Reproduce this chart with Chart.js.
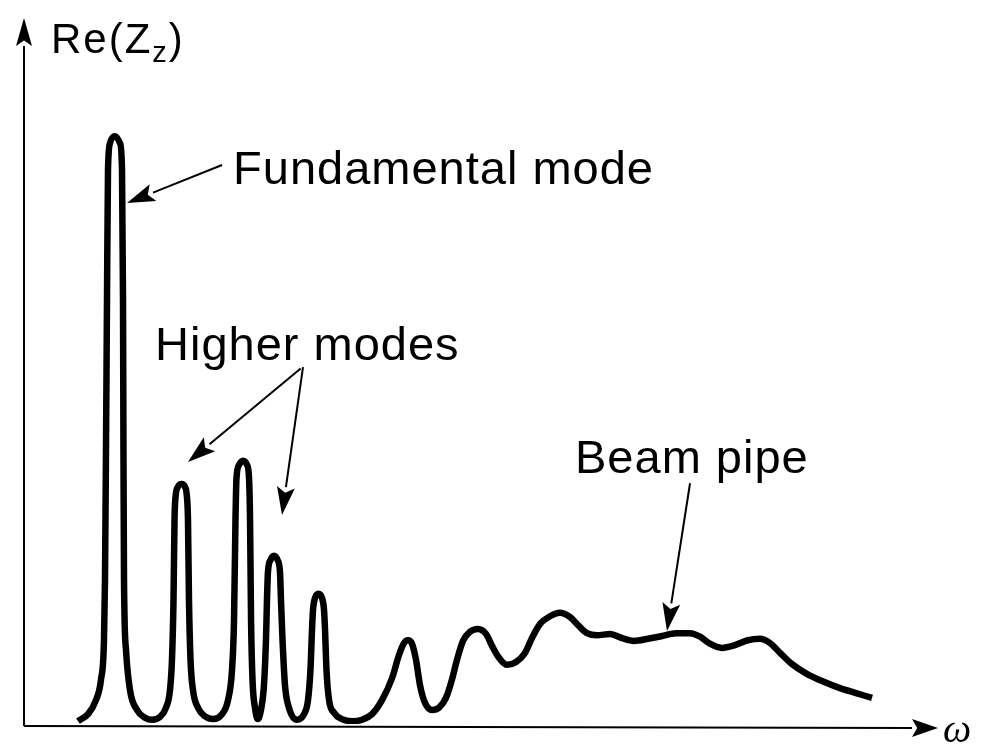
<!DOCTYPE html>
<html>
<head>
<meta charset="utf-8">
<script src="https://cdn.jsdelivr.net/npm/chart.js@4.4.1/dist/chart.umd.min.js"></script>
<style>
  html, body { margin: 0; padding: 0; background: #fff; }
  canvas { display: block; }
</style>
</head>
<body>
<canvas id="impedance-chart" width="983" height="745"></canvas>
<script>
// frequency (arbitrary units) and real part of the longitudinal impedance
const omega = [
  0.593, 0.703, 0.791, 0.846, 0.879, 0.890, 0.901, 0.912, 0.923, 0.945, 1.000, 1.055, 1.077, 1.088, 1.093, 1.099, 1.121, 1.165, 1.242, 1.330, 1.407,
  1.495, 1.560, 1.604, 1.626, 1.643, 1.654, 1.665, 1.692, 1.731, 1.769, 1.791, 1.802, 1.813, 1.830, 1.857, 1.912, 1.989, 2.077,
  2.176, 2.242, 2.286, 2.308, 2.324, 2.335, 2.363, 2.407, 2.451, 2.473, 2.484, 2.495, 2.511, 2.538, 2.571,
  2.604, 2.637, 2.659, 2.670, 2.681, 2.709, 2.747, 2.786, 2.813, 2.824, 2.841, 2.868, 2.912, 3.000,
  3.077, 3.121, 3.148, 3.165, 3.176, 3.198, 3.236, 3.275, 3.297, 3.308, 3.324, 3.352, 3.407, 3.495, 3.604,
  3.714, 3.824, 3.934, 4.044, 4.121, 4.176, 4.220, 4.264, 4.308, 4.352, 4.407, 4.484, 4.560, 4.637, 4.703, 4.758,
  4.824, 4.901, 4.989, 5.077, 5.143, 5.220, 5.308, 5.407, 5.505, 5.582, 5.670, 5.780, 5.890, 6.000, 6.099, 6.187,
  6.297, 6.440, 6.571, 6.703, 6.857, 7.011, 7.165, 7.319, 7.429, 7.538, 7.670, 7.813, 7.956, 8.088, 8.198, 8.308,
  8.440, 8.593, 8.769, 8.967, 9.143, 9.319
];
const reZ = [
  0.4, 1.4, 3.4, 6.3, 11.9, 20.5, 38.9, 60.2, 78.7, 82.5, 83.5, 82.5, 78.7, 60.2, 38.9, 20.5, 10.5, 4.8, 2.0, 0.9, 0.6,
  1.0, 2.3, 4.8, 9.1, 17.6, 29.0, 32.2, 33.7, 34.1, 33.7, 32.2, 29.0, 17.6, 9.1, 4.8, 2.3, 1.1, 0.7,
  1.4, 3.4, 7.7, 14.8, 29.0, 34.9, 36.8, 37.4, 36.8, 34.9, 29.0, 14.8, 6.3, 2.3, 0.7,
  2.0, 5.5, 11.9, 17.6, 21.6, 23.3, 23.9, 23.3, 21.6, 17.6, 11.9, 5.5, 2.3, 0.6,
  1.4, 3.4, 7.7, 13.4, 16.2, 17.9, 18.5, 17.9, 16.2, 13.4, 7.7, 3.4, 1.6, 0.7, 0.4,
  0.6, 1.4, 3.4, 6.5, 9.8, 11.5, 11.9, 11.4, 9.1, 5.5, 3.0, 2.0, 2.3, 3.7, 6.3, 9.1,
  11.8, 13.1, 13.5, 12.8, 11.1, 9.4, 8.4, 8.8, 10.1, 12.2, 14.2, 15.3, 15.8, 15.2, 13.9, 12.9,
  12.6, 12.8, 12.2, 11.8, 12.1, 12.5, 12.9, 12.9, 12.4, 11.4, 10.8, 11.2, 11.9, 12.1, 11.5, 10.1,
  8.5, 7.2, 6.1, 5.1, 4.4, 3.7
];

// callout texts, anchored at the left end of their baseline
const notes = [
  { text: 'Fundamental mode', x: 2.297, y: 76.7 },
  { text: 'Higher modes', x: 1.440, y: 51.7 },
  { text: 'Beam pipe', x: 6.055, y: 35.7 }
];
// pointer arrows from the callouts to the curve
const pointers = [
  { from: [2.176, 79.4], to: [1.132, 74.0] },
  { from: [3.040, 50.5], to: [1.802, 37.2] },
  { from: [3.066, 50.7], to: [2.835, 29.7] },
  { from: [7.319, 34.2], to: [7.066, 13.2] }
];

function arrow(ctx, x1, y1, x2, y2, len, half, width) {
  const a = Math.atan2(y2 - y1, x2 - x1);
  const bx = x2 - len * Math.cos(a), by = y2 - len * Math.sin(a);
  ctx.lineWidth = width;
  ctx.beginPath();
  ctx.moveTo(x1, y1);
  ctx.lineTo(bx, by);
  ctx.stroke();
  ctx.beginPath();
  ctx.moveTo(x2, y2);
  ctx.lineTo(bx - half * Math.sin(a), by + half * Math.cos(a));
  ctx.lineTo(x2 - 0.8 * len * Math.cos(a), y2 - 0.8 * len * Math.sin(a));
  ctx.lineTo(bx + half * Math.sin(a), by - half * Math.cos(a));
  ctx.closePath();
  ctx.fill();
}

const sketch = {
  id: 'sketch',
  afterDraw(chart) {
    const { ctx, chartArea: area, scales: { x, y } } = chart;
    ctx.save();
    ctx.fillStyle = '#000';
    ctx.strokeStyle = '#000';
    ctx.lineCap = 'butt';

    // axes with arrow heads
    const oy = area.bottom + 2;
    arrow(ctx, area.left, oy, area.left, area.top - 2, 28, 8, 2);
    arrow(ctx, area.left, oy, area.right + 4, oy + 2, 26, 9, 2);

    // axis titles
    ctx.textBaseline = 'alphabetic';
    ctx.textAlign = 'left';
    ctx.letterSpacing = '2px';
    ctx.font = '42px "Liberation Sans", Arial, sans-serif';
    let tx = area.left + 27;
    ctx.fillText('Re(Z', tx, 53);
    tx += ctx.measureText('Re(Z').width;
    ctx.font = '29px "Liberation Sans", Arial, sans-serif';
    ctx.fillText('z', tx, 62);
    tx += ctx.measureText('z').width;
    ctx.font = '42px "Liberation Sans", Arial, sans-serif';
    ctx.fillText(')', tx, 53);

    ctx.letterSpacing = '0px';
    ctx.font = 'italic 40px "Liberation Serif", "DejaVu Serif", serif';
    ctx.fillText('ω', area.right + 9, oy + 16);

    // callouts
    ctx.letterSpacing = '1px';
    ctx.font = '47px "Liberation Sans", Arial, sans-serif';
    notes.forEach(n => ctx.fillText(n.text, x.getPixelForValue(n.x), y.getPixelForValue(n.y)));
    ctx.letterSpacing = '0px';
    pointers.forEach(p => arrow(ctx,
      x.getPixelForValue(p.from[0]), y.getPixelForValue(p.from[1]),
      x.getPixelForValue(p.to[0]), y.getPixelForValue(p.to[1]), 28, 9, 2));
    ctx.restore();
  }
};

new Chart(document.querySelector('#impedance-chart').getContext('2d'), {
  type: 'line',
  data: {
    datasets: [{
      data: omega.map((w, i) => ({ x: w, y: reZ[i] })),
      borderColor: '#000',
      borderWidth: 6.5,
      pointRadius: 0,
      cubicInterpolationMode: 'monotone',
      fill: false
    }]
  },
  options: {
    responsive: false,
    animation: false,
    devicePixelRatio: 1,
    layout: { padding: { left: 24, right: 49, top: 20, bottom: 21 } },
    plugins: { legend: { display: false }, tooltip: { enabled: false } },
    scales: {
      x: { type: 'linear', min: 0, max: 10, display: false },
      y: { min: 0, max: 100, display: false }
    }
  },
  plugins: [sketch]
});
</script>
</body>
</html>
